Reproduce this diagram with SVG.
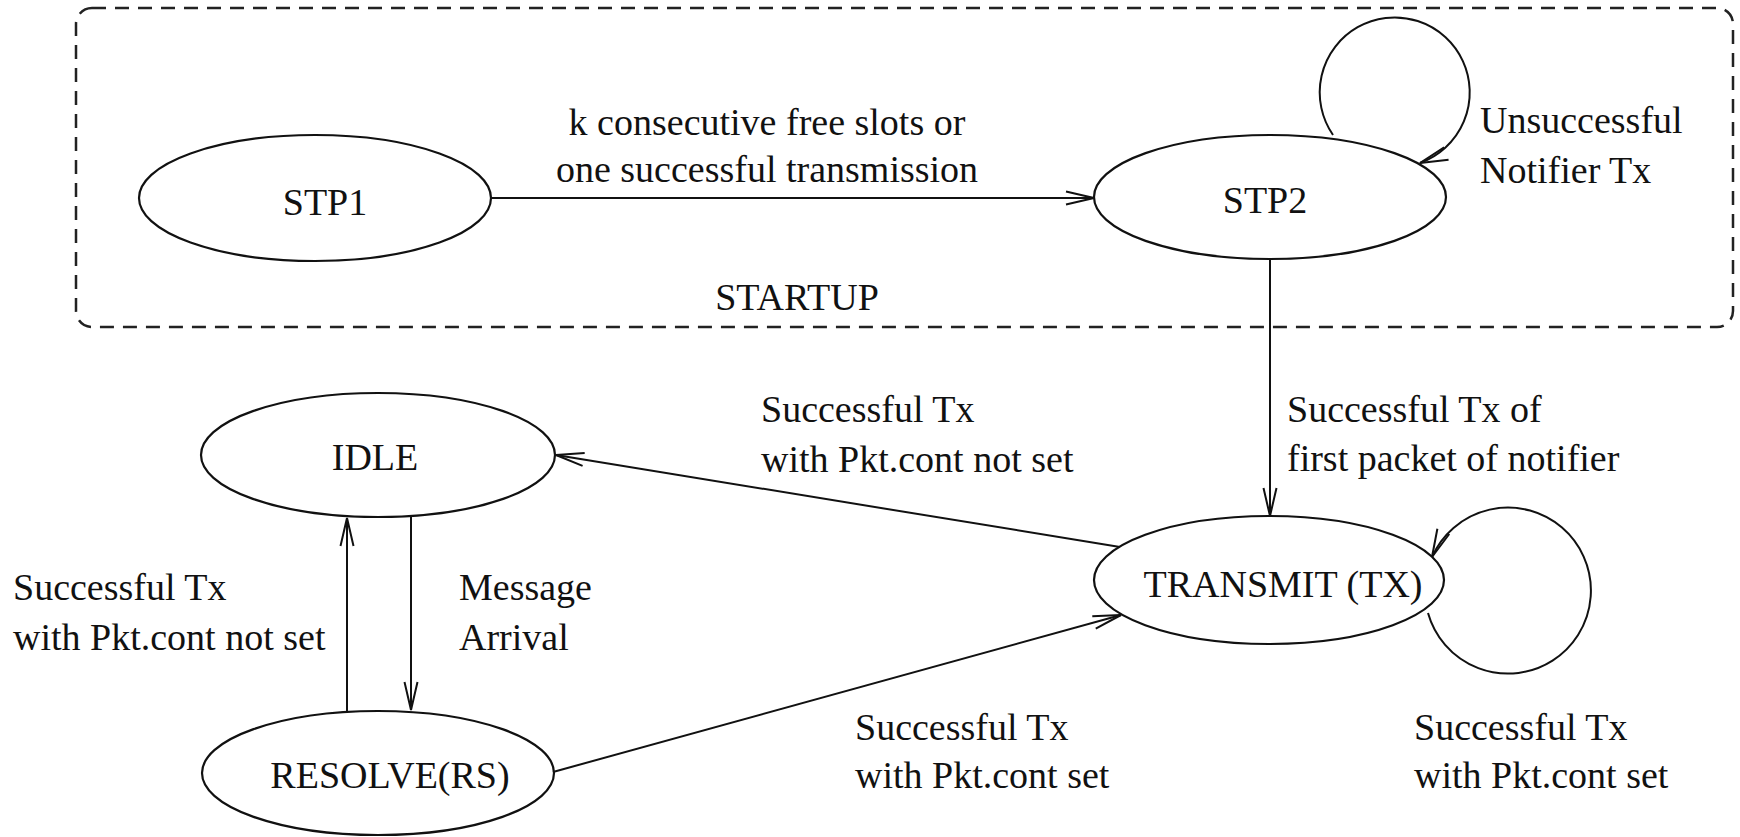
<svg xmlns="http://www.w3.org/2000/svg" width="1740" height="837" viewBox="0 0 1740 837">
<style>
  .node { fill: none; stroke: #111; stroke-width: 2.2; }
  .conn { fill: none; stroke: #111; stroke-width: 2; }
  .lbl { font-family: "Liberation Serif", "Times New Roman", serif; font-size: 38px; fill: #111; }
  .mid { text-anchor: middle; }
  .box { fill: none; stroke: #222; stroke-width: 2.5; stroke-dasharray: 14 9; }
</style>
<defs>
  <marker id="arr" viewBox="0 0 30 16" refX="29" refY="8" markerWidth="30" markerHeight="16" markerUnits="userSpaceOnUse" orient="auto">
    <path d="M1,1.5 L29,8 L1,14.5" fill="none" stroke="#111" stroke-width="2"/>
  </marker>
</defs>
<rect width="1740" height="837" fill="#fff"/>

<g id="startup">
  <rect class="box" x="76" y="8" width="1657" height="319" rx="16" ry="16"/>
  <text class="lbl mid" x="797" y="310">STARTUP</text>
</g>

<g id="stp1">
  <ellipse class="node" cx="315" cy="198" rx="176" ry="63"/>
  <text class="lbl mid" x="325" y="215">STP1</text>
</g>
<g id="stp2">
  <ellipse class="node" cx="1270" cy="197" rx="176" ry="62"/>
  <text class="lbl mid" x="1265" y="213">STP2</text>
</g>
<g id="idle">
  <ellipse class="node" cx="378" cy="455" rx="177" ry="62"/>
  <text class="lbl mid" x="375" y="470">IDLE</text>
</g>
<g id="resolve">
  <ellipse class="node" cx="378" cy="773" rx="176" ry="62"/>
  <text class="lbl mid" x="390" y="788">RESOLVE(RS)</text>
</g>
<g id="transmit">
  <ellipse class="node" cx="1269" cy="580" rx="175" ry="64"/>
  <text class="lbl mid" x="1283" y="597">TRANSMIT (TX)</text>
</g>

<g id="connectors">
  <line class="conn" x1="491" y1="198" x2="1094" y2="198" marker-end="url(#arr)"/>
  <path class="conn" d="M1333,135 A75,75 0 1,1 1420,163" marker-end="url(#arr)"/>
  <line class="conn" x1="1270" y1="259" x2="1270" y2="516" marker-end="url(#arr)"/>
  <line class="conn" x1="1120" y1="547" x2="556" y2="455" marker-end="url(#arr)"/>
  <line class="conn" x1="347" y1="711" x2="347" y2="518" marker-end="url(#arr)"/>
  <line class="conn" x1="411" y1="517" x2="411" y2="710" marker-end="url(#arr)"/>
  <line class="conn" x1="553" y1="772" x2="1121" y2="615" marker-end="url(#arr)"/>
  <path class="conn" d="M1428,613 A83,83 0 1,0 1432,557" marker-end="url(#arr)"/>
</g>

<g id="labels">
  <text class="lbl mid" x="767" y="135">k consecutive free slots or</text>
  <text class="lbl mid" x="767" y="182">one successful transmission</text>
  <text class="lbl" x="1480" y="133">Unsuccessful</text>
  <text class="lbl" x="1480" y="183">Notifier Tx</text>
  <text class="lbl" x="761" y="422">Successful Tx</text>
  <text class="lbl" x="761" y="472">with Pkt.cont not set</text>
  <text class="lbl" x="1287" y="422">Successful Tx of</text>
  <text class="lbl" x="1287" y="471">first packet of notifier</text>
  <text class="lbl" x="13" y="600">Successful Tx</text>
  <text class="lbl" x="13" y="650">with Pkt.cont not set</text>
  <text class="lbl" x="459" y="600">Message</text>
  <text class="lbl" x="459" y="650">Arrival</text>
  <text class="lbl" x="855" y="740">Successful Tx</text>
  <text class="lbl" x="855" y="788">with Pkt.cont set</text>
  <text class="lbl" x="1414" y="740">Successful Tx</text>
  <text class="lbl" x="1414" y="788">with Pkt.cont set</text>
</g>
</svg>
